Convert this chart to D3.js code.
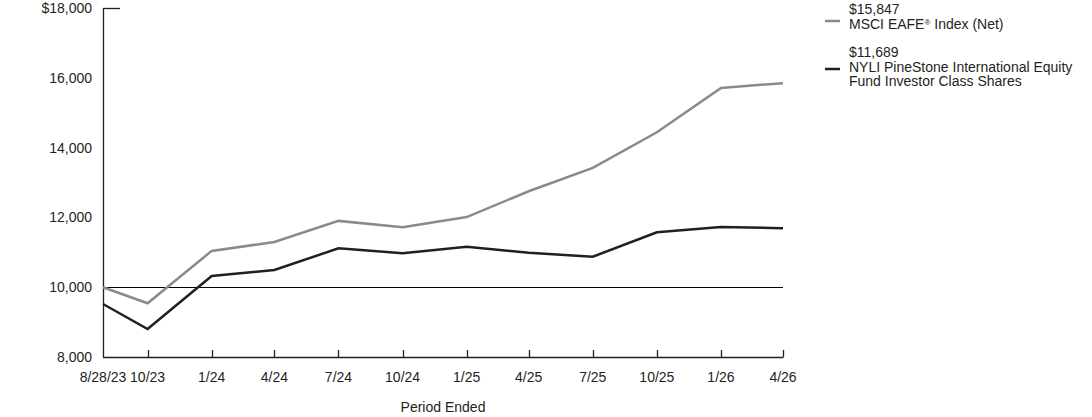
<!DOCTYPE html>
<html>
<head>
<meta charset="utf-8">
<script src="https://cdn.jsdelivr.net/npm/d3@7"></script>
<style>
	body{margin:0;background:#fff;}
	text{font-family:Arial,"Liberation Sans",sans-serif;fill:#231f20;}
</style>
</head>
<body>
<div id="chart_div"></div>
<script>

////////////////////////////////////////
// data

var periodDates = ['2023-08-28','2023-10-31','2024-01-31','2024-04-30','2024-07-31','2024-10-31',
	'2025-01-31','2025-04-30','2025-07-31','2025-10-31','2026-01-31','2026-04-30'];
var periodLabels = ['8/28/23','10/23','1/24','4/24','7/24','10/24','1/25','4/25','7/25','10/25','1/26','4/26'];

var msciValues = [10000,9540,11040,11295,11900,11720,12010,12750,13420,14440,15710,15847];
var fundValues = [9519,8802,10321,10493,11115,10971,11160,10986,10874,11573,11725,11689];

var yTicks = [8000,10000,12000,14000,16000,18000];

var seriesNames = ['MSCI EAFE\u00AE Index (Net)','NYLI PineStone International Equity Fund Investor Class Shares'];
var seriesEnd = ['$15,847','$11,689'];

////////////////////////////////////////

var chart_w = 1092;
var chart_h = 417;
var fontSize = 14;
var parseDate = d3.timeParse('%Y-%m-%d');
var dates = periodDates.map(parseDate);

var vis = d3.select('#chart_div')
	.append('svg')
	.attr('width',chart_w)
	.attr('height',chart_h);

var x = d3.scaleTime()
	.domain([dates[0],dates[dates.length-1]])
	.range([103,783]);

var y = d3.scaleLinear()
	.domain([8000,18000])
	.range([357,8]);

////////////////////////////////////////
// axes

vis.append('line')
	.attr('x1',103.5).attr('x2',103.5)
	.attr('y1',y(18000)).attr('y2',y(8000)+0.5)
	.attr('stroke','#231f20').attr('stroke-width',1.3);

vis.append('line')
	.attr('x1',103).attr('x2',120)
	.attr('y1',y(18000)+0.5).attr('y2',y(18000)+0.5)
	.attr('stroke','#231f20').attr('stroke-width',1.3);

vis.append('line')
	.attr('x1',103).attr('x2',x(dates[dates.length-1])+0.5)
	.attr('y1',y(8000)+0.5).attr('y2',y(8000)+0.5)
	.attr('stroke','#231f20').attr('stroke-width',1.3);

vis.selectAll('line.xtick')
	.data(dates.slice(1))
	.enter()
		.append('line')
		.attr('class','xtick')
		.attr('x1',function(d){ return Math.round(x(d))+0.5; })
		.attr('x2',function(d){ return Math.round(x(d))+0.5; })
		.attr('y1',y(8000)-7)
		.attr('y2',y(8000))
		.attr('stroke','#231f20')
		.attr('stroke-width',1.3);

vis.selectAll('text.xlabel')
	.data(dates)
	.enter()
		.append('text')
		.attr('class','xlabel')
		.attr('x',function(d){ return x(d); })
		.attr('y',382)
		.attr('text-anchor','middle')
		.attr('font-size',fontSize)
		.text(function(d,i){ return periodLabels[i]; });

vis.selectAll('text.ylabel')
	.data(yTicks)
	.enter()
		.append('text')
		.attr('class','ylabel')
		.attr('x',92)
		.attr('y',function(d){ return y(d)+5; })
		.attr('text-anchor','end')
		.attr('font-size',fontSize)
		.text(function(d){
			var s = d3.format(',')(d);
			if(d===18000) s = '$'+s;
			return s;
		});

vis.append('text')
	.attr('x',443)
	.attr('y',412)
	.attr('text-anchor','middle')
	.attr('font-size',fontSize)
	.text('Period Ended');

// 10,000 reference line
vis.append('line')
	.attr('x1',103).attr('x2',x(dates[dates.length-1]))
	.attr('y1',Math.round(y(10000))+0.5).attr('y2',Math.round(y(10000))+0.5)
	.attr('stroke','#000').attr('stroke-width',1.2);

////////////////////////////////////////
// lines

var line = d3.line()
	.x(function(d,i){ return x(dates[i]); })
	.y(function(d){ return y(d); });

vis.append('path')
	.datum(msciValues)
	.attr('d',line)
	.attr('fill','none')
	.attr('stroke','#8a8a8a')
	.attr('stroke-width',2.5);

vis.append('path')
	.datum(fundValues)
	.attr('d',line)
	.attr('fill','none')
	.attr('stroke','#231f20')
	.attr('stroke-width',2.5);

////////////////////////////////////////
// legend

var legend = [
	{'color':'#8a8a8a','lines':[seriesEnd[0],seriesNames[0]],'top':14,'swatch':21},
	{'color':'#231f20','lines':[seriesEnd[1],'NYLI PineStone International Equity','Fund Investor Class Shares'],'top':57,'swatch':69}
];

legend.forEach(function(d){
	vis.append('line')
		.attr('x1',825).attr('x2',840)
		.attr('y1',d.swatch).attr('y2',d.swatch)
		.attr('stroke',d.color)
		.attr('stroke-width',2.5);
	d.lines.forEach(function(t,i){
		var txt = vis.append('text')
			.attr('x',849)
			.attr('y',d.top+i*14.5)
			.attr('font-size',fontSize);
		if(t.indexOf('\u00AE')>=0){
			var parts = t.split('\u00AE');
			txt.append('tspan').text(parts[0]);
			txt.append('tspan').attr('font-size',8).attr('dy',-4).text('\u00AE');
			txt.append('tspan').attr('dy',4).text(parts[1]);
		}
		else{
			txt.text(t);
		}
	});
});

</script>
</body>
</html>
